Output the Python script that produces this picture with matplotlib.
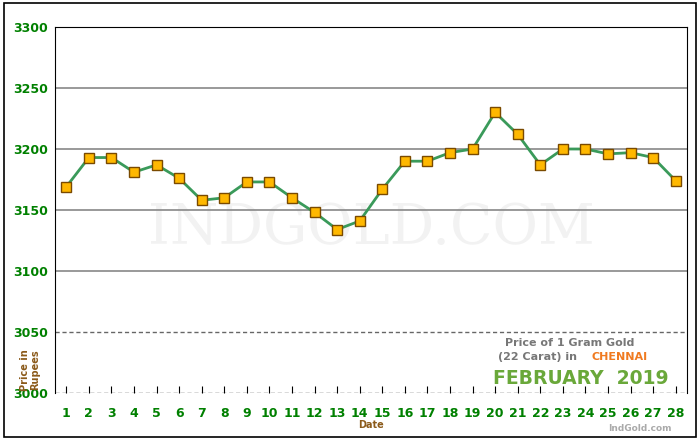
import matplotlib
matplotlib.use("Agg")
import matplotlib.pyplot as plt
from matplotlib.patches import Rectangle

dates = list(range(1, 29))
prices = [3169, 3193, 3193, 3181, 3187, 3176, 3158, 3160, 3173, 3173, 3160, 3148, 3134, 3141,
          3167, 3190, 3190, 3197, 3200, 3230, 3212, 3187, 3200, 3200, 3196, 3197, 3193, 3174]
yticks = [3000, 3050, 3100, 3150, 3200, 3250, 3300]

fig = plt.figure(figsize=(7, 4.4), dpi=100)
fig.patches.append(Rectangle((0.006, 0.006), 0.988, 0.988, transform=fig.transFigure,
                             fill=False, edgecolor='black', lw=1.2))
ax = fig.add_axes([55/700, 1-393/440, 632/700, 366/440])
ax.set_xlim(0.5, 28.5)
ax.set_ylim(3000, 3300)
for y in [3100, 3150, 3200, 3250]:
    ax.axhline(y, color='#888888', lw=1.2, zorder=1)
ax.axhline(3050, color='#666666', lw=1, ls=(0, (3, 2)), zorder=1)
ax.axhline(3000, color='#444444', lw=1, ls=(0, (3, 2)), zorder=1)
ax.text(0.5, 0.45, 'INDGOLD.COM', transform=ax.transAxes,
        ha='center', va='center', fontsize=40, color='#f2f2f2', family='DejaVu Serif', zorder=0)
ax.plot(dates, prices, color='#3a9a5a', lw=2, zorder=2)
ax.plot(dates, prices, ls='none', marker='s', ms=7, mfc='#ffb800', mec='#7a4a00', mew=1, zorder=3)
ax.set_xticks(dates)
ax.set_xticklabels([str(d) for d in dates])
ax.set_yticks(yticks)
ax.tick_params(axis='x', colors='black', labelcolor='green', labelsize=9, length=5, pad=10, direction='in')
ax.tick_params(axis='y', length=0, labelcolor='green', labelsize=9, pad=5)
for lab in ax.get_xticklabels() + ax.get_yticklabels():
    lab.set_fontweight('bold')
ax.set_xlabel('Date', color='#8b5a1a', fontsize=7, fontweight='bold', labelpad=0)
ax.spines['bottom'].set_visible(False)
fig.text(30/700, 1-370/440, 'Price in\nRupees', rotation=90, ha='center', va='center',
         color='#8b5a1a', fontsize=7, fontweight='bold', linespacing=1.1)
fig.text(570/700, 1-343/440, 'Price of 1 Gram Gold', ha='center', va='center',
         fontsize=8, fontweight='bold', color='#777777')
fig.text(498/700, 1-357/440, '(22 Carat) in ', ha='left', va='center',
         fontsize=8, fontweight='bold', color='#777777')
fig.text(591/700, 1-357/440, 'CHENNAI', ha='left', va='center',
         fontsize=8, fontweight='bold', color='#f07a20')
fig.text(581/700, 1-378/440, 'FEBRUARY  2019', ha='center', va='center',
         fontsize=13.5, fontweight='bold', color='#6aa83a')
fig.text(672/700, 1-428/440, 'IndGold.com', ha='right', va='center', fontsize=6.5,
         fontweight='bold', color='#aaaaaa')
fig.savefig('out.png', dpi=100)
